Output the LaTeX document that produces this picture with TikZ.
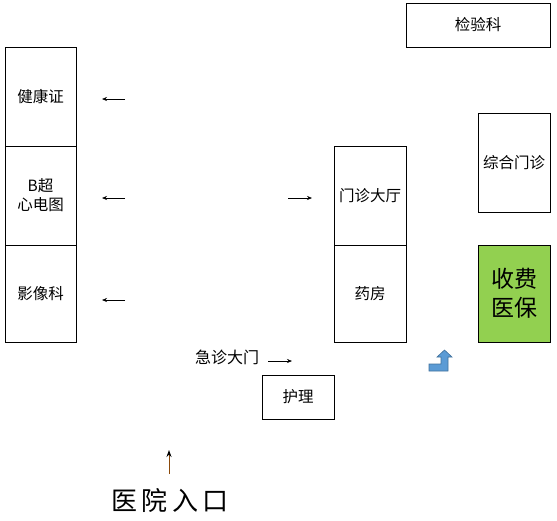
\documentclass[tikz,border=0pt]{standalone}
\usepackage{fontspec}
\setmainfont{Noto Sans CJK SC}
\usetikzlibrary{arrows.meta}
\definecolor{greenfill}{HTML}{92D050}
\definecolor{bluefill}{HTML}{5B9BD5}
\definecolor{blueline}{HTML}{41719C}
\definecolor{brownline}{HTML}{8B4A0B}
\begin{document}
\begin{tikzpicture}[x=1pt,y=-1pt,
  room/.style={draw=black, line width=0.8pt, inner sep=0pt, font=\fontsize{15.5}{19}\selectfont, align=center},
  arr/.style={-{Stealth[length=5pt,width=4pt]}, line width=0.6pt},
  lbl/.style={inner sep=0pt, font=\fontsize{16}{19}\selectfont}]
\useasboundingbox (0,0) rectangle (557,520);
% left column
\node[room, minimum width=71pt, minimum height=99pt] (jkz) at (40.5,96.5) {健康证};
\node[room, minimum width=71pt, minimum height=99pt] (bc) at (40.5,195.5) {B超\\心电图};
\node[room, minimum width=71pt, minimum height=97pt] (yxk) at (40.5,293.5) {影像科};
% middle column
\node[room, minimum width=72pt, minimum height=99pt] (mzdt) at (370,195.5) {门诊大厅};
\node[room, minimum width=72pt, minimum height=97pt] (yf) at (370,293.5) {药房};
\node[room, minimum width=72pt, minimum height=44pt] (hl) at (298,397) {护理};
% right column
\node[room, minimum width=144pt, minimum height=44pt] (jyk) at (478,25) {检验科};
\node[room, minimum width=72pt, minimum height=99pt] (zhmz) at (514,162.5) {综合门诊};
\node[room, fill=greenfill, minimum width=72pt, minimum height=97pt, font=\fontsize{23}{29}\selectfont] (sf) at (514,293.5) {收费\\医保};
% arrows pointing left
\coordinate (a1s) at (125,99); \coordinate (a1e) at (102,99);
\coordinate (a2s) at (125,198); \coordinate (a2e) at (102,198);
\coordinate (a3s) at (125,300); \coordinate (a3e) at (102,300);
\draw[arr] (a1s) -- (a1e);
\draw[arr] (a2s) -- (a2e);
\draw[arr] (a3s) -- (a3e);
% arrow to 门诊大厅
\coordinate (a4s) at (288,198); \coordinate (a4e) at (312,198);
\draw[arr] (a4s) -- (a4e);
% 急诊大门
\node[lbl] (jzdm) at (227,357) {急诊大门};
\coordinate (a5s) at (268,361); \coordinate (a5e) at (292,361);
\draw[arr] (a5s) -- (a5e);
% entrance
\node[inner sep=0pt, font=\fontsize{26}{30}\selectfont] (rk) at (170,500) {医\,院\,入\,口};
\coordinate (a6s) at (169,474); \coordinate (a6e) at (169,450);
\draw[-{Stealth[length=7pt,width=5pt,color=black]}, line width=1pt, brownline] (a6s) -- (a6e);
% bent blue arrow
\draw[fill=bluefill, draw=blueline, line width=0.6pt]
  (429,364) -- (441,364) -- (441,357) -- (437,357) -- (444.5,350) -- (452,357)
  -- (448,357) -- (448,371) -- (429,371) -- cycle;
\end{tikzpicture}
\end{document}
